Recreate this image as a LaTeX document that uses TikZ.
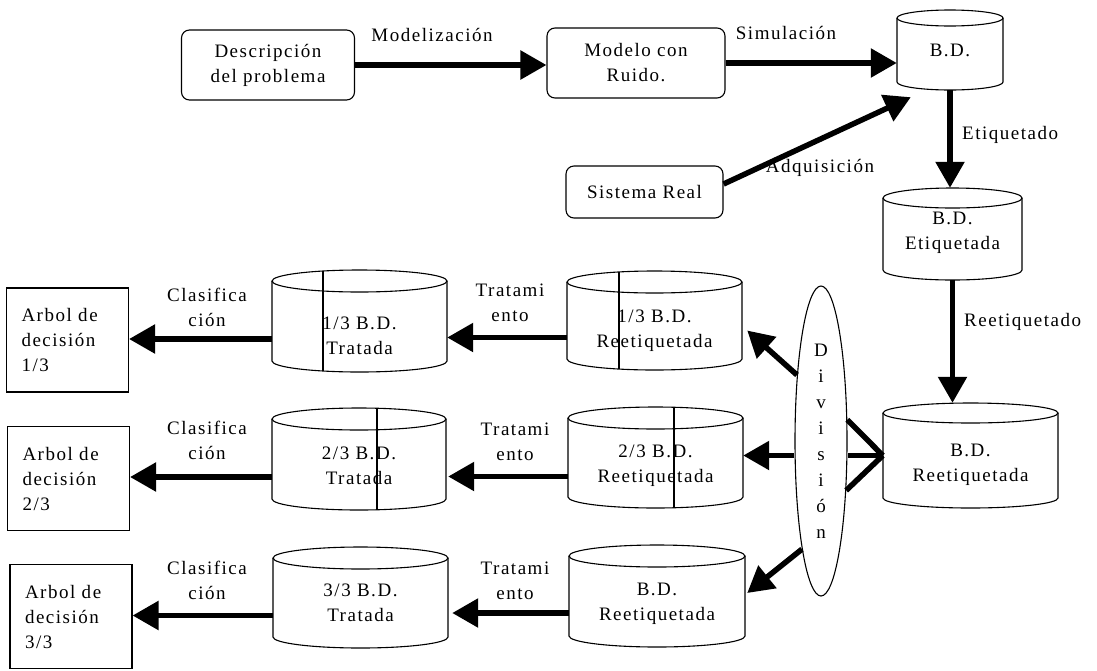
\documentclass[tikz,border=0pt]{standalone}
\usepackage{fontspec}
\setmainfont{Liberation Serif}[LetterSpace=8]
\usetikzlibrary{arrows.meta,calc,shapes.geometric}

% Database drawn as a cylinder: #1 name, #2 left, #3 top, #4 right, #5 bottom,
% #6 ellipse half-height, #7 text centre (y, downwards), #8 text
\newcommand\dbcyl[8]{%
  \pgfmathsetmacro\cylcx{(#2+#4)/2}%
  \pgfmathsetmacro\cylrx{(#4-#2)/2}%
  \pgfmathsetmacro\cylcy{-(#3+#5)/2}%
  \fill[white] (#2,-#3-#6) -- (#2,-#5+#6) arc[start angle=180,end angle=360,x radius=\cylrx pt,y radius=#6 pt] -- (#4,-#3-#6) -- cycle;
  \node[anchorbox, minimum width={(#4-#2)*1pt}, minimum height={(#5-#3)*1pt}] (#1) at (\cylcx,\cylcy) {};
  \draw[dbline] (#2,-#3-#6) -- (#2,-#5+#6) arc[start angle=180,end angle=360,x radius=\cylrx pt,y radius=#6 pt] -- (#4,-#3-#6);
  \draw[dbline, fill=white] (\cylcx,-#3-#6) ellipse[x radius=\cylrx pt, y radius=#6 pt];
  \node[dbtext] (#1-t) at (\cylcx,-#7) {#8};
}

\begin{document}
\begin{tikzpicture}[x=1pt,y=1pt,
  every node/.style={font=\fontsize{19}{25}\selectfont},
  proc/.style={draw, line width=1.1pt, rounded corners=8pt, align=center, inner sep=0pt},
  leaf/.style={draw, line width=1.1pt, align=left, inner xsep=15pt, inner ysep=0pt, text width=92pt, minimum height=104pt},
  anchorbox/.style={inner sep=0pt},
  dbline/.style={line width=1.1pt},
  dbtext/.style={align=center, inner sep=1pt},
  flow/.style={line width=5.5pt, -{Triangle[length=26pt,width=28pt]}},
  fan/.style={line width=5.5pt},
  lbl/.style={inner sep=1pt, align=center}
]
\useasboundingbox (0,0) rectangle (1097,-670);
\fill[white] (0,0) rectangle (1097,-670);

% --- top row: modelling chain ---
\node[proc, minimum width=173pt, minimum height=70pt] (desc) at (268,-65) {Descripción\\del problema};
\node[proc, minimum width=178pt, minimum height=70pt] (modelo) at (636,-63) {Modelo con\\Ruido.};
\node[proc, minimum width=157pt, minimum height=52pt] (real) at (644.5,-192) {Sistema Real};

\dbcyl{bd}{897}{10}{1003}{90}{8}{50}{B.D.}
\dbcyl{bde}{883}{188}{1022}{280}{10}{233}{B.D.\\Etiquetada}
\dbcyl{bdr}{883}{403}{1058}{508}{10}{465}{B.D.\\Reetiquetada}

% --- split into thirds ---
\node[ellipse, draw, line width=1.1pt, minimum width=52pt, minimum height=310pt, inner sep=0pt,
      align=center, font=\fontsize{19}{26}\selectfont] (div) at (821,-441) {D\\i\\v\\i\\s\\i\\ó\\n};

\dbcyl{r1}{567}{271}{742}{370}{11}{331}{1/3 B.D.\\Reetiquetada}
\dbcyl{r2}{568}{407}{743}{508}{11}{466}{2/3 B.D.\\Reetiquetada}
\dbcyl{r3}{569}{545}{745}{647}{11}{604}{B.D.\\Reetiquetada}

\dbcyl{t1}{272}{270}{447}{372}{11}{336}{1/3 B.D.\\Tratada}
\dbcyl{t2}{272}{408}{446}{510}{11}{466}{2/3 B.D.\\Tratada}
\dbcyl{t3}{273}{547}{448}{648}{11}{603}{3/3 B.D.\\Tratada}

% seams across the split databases
\draw[dbline] (323,-271) -- (323,-371);
\draw[dbline] (619,-272) -- (619,-369);
\draw[dbline] (377,-409) -- (377,-509);
\draw[dbline] (674,-408) -- (674,-507);

\node[leaf] (a1) at (67.5,-340) {Arbol de\\decisión\\1/3};
\node[leaf] (a2) at (68.5,-478.5) {Arbol de\\decisión\\2/3};
\node[leaf] (a3) at (71,-616.5) {Arbol de\\decisión\\3/3};

% --- connectors ---
\draw[flow] (desc.east) -- (desc.east -| modelo.west);
\node[lbl] (lmod) at (432,-35) {Modelización};

\draw[flow] (modelo.east) -- (modelo.east -| bd.west);
\node[lbl] (lsim) at (786,-33) {Simulación};

\draw[flow] ($(real.east)+(0,8)$) -- ($(bd.south west)+(14,-7)$);
\node[lbl] (ladq) at (820,-168) {Adquisición};

\draw[flow] (bd.south) -- (bd.south |- bde.north);
\node[lbl, anchor=west] (leti) at (961,-135) {Etiquetado};

\draw[flow] (bde.south) -- (bde.south |- bdr.north);
\node[lbl, anchor=west] (lree) at (963,-322) {Reetiquetado};

\draw[fan] (bdr.west) -- (div.39);
\draw[fan] (bdr.west) -- (div.east |- bdr.west);
\draw[fan] (bdr.west) -- (div.-63);

\draw[flow] (div.110) -- ($(r1.east)+(5,-10)$);
\draw[flow] (div.west |- bdr.west) -- (r2.east |- bdr.west);
\draw[flow] (div.-100) -- ($(r3.east)+(2,3)$);

% treatment of each third
\coordinate (s1) at ($(r1.west)+(0,-17)$);
\coordinate (s2) at ($(r2.west)+(0,-19)$);
\coordinate (s3) at ($(r3.west)+(0,-17)$);
\draw[flow] (s1) -- (s1 -| t1.east);
\draw[flow] (s2) -- ($(s2 -| t2.east)+(2,0)$);
\draw[flow] (s3) -- ($(s3 -| t3.east)+(4,0)$);
\node[lbl] (ltr1) at (510,-303) {Tratami\\ento};
\node[lbl] (ltr2) at (515,-442) {Tratami\\ento};
\node[lbl] (ltr3) at (515,-581) {Tratami\\ento};

% classification of each treated third
\coordinate (c1) at ($(t1.west)+(0,-18)$);
\coordinate (c2) at ($(t2.west)+(0,-18)$);
\coordinate (c3) at ($(t3.west)+(0,-18)$);
\draw[flow] (c1) -- (c1 -| a1.east);
\draw[flow] (c2) -- (c2 -| a2.east);
\draw[flow] (c3) -- (c3 -| a3.east);
\node[lbl] (lcl1) at (207,-307) {Clasifica\\ción};
\node[lbl] (lcl2) at (207,-440) {Clasifica\\ción};
\node[lbl] (lcl3) at (207,-580) {Clasifica\\ción};
\end{tikzpicture}
\end{document}
